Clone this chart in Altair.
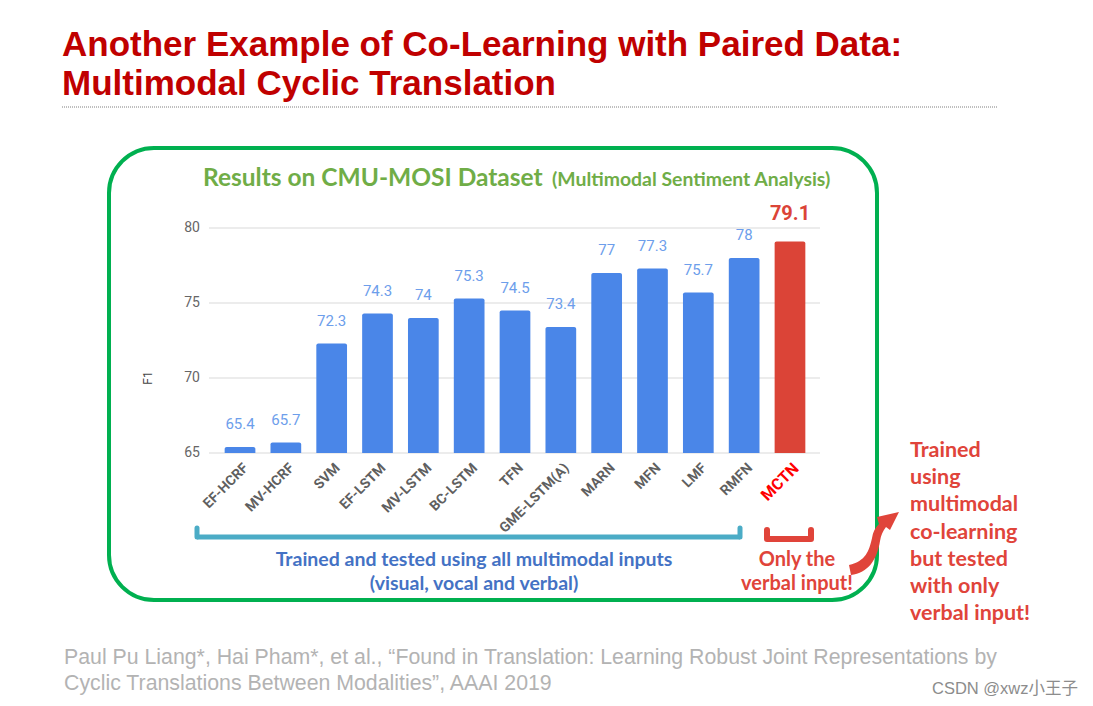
import altair as alt
import pandas as pd

# ---------------- data ----------------
models = ["EF-HCRF", "MV-HCRF", "SVM", "EF-LSTM", "MV-LSTM", "BC-LSTM", "TFN",
          "GME-LSTM(A)", "MARN", "MFN", "LMF", "RMFN", "MCTN"]
f1_scores = [65.4, 65.7, 72.3, 74.3, 74.0, 75.3, 74.5, 73.4, 77.0, 77.3, 75.7, 78.0, 79.1]
value_labels = ["65.4", "65.7", "72.3", "74.3", "74", "75.3", "74.5", "73.4",
                "77", "77.3", "75.7", "78", "79.1"]
groups = ["all"] * 12 + ["verbal"]
y_ticks = [65, 70, 75, 80]

title_lines = ["Another Example of Co-Learning with Paired Data:",
               "Multimodal Cyclic Translation"]
chart_title = "Results on CMU-MOSI Dataset"
chart_subtitle = "(Multimodal Sentiment Analysis)"
blue_note = ["Trained and tested using all multimodal inputs",
             "(visual, vocal and verbal)"]
red_note = ["Only  the", "verbal input!"]
side_note = ["Trained", "using", "multimodal", "co-learning", "but tested",
             "with only", "verbal input!"]
citation = ["Paul Pu Liang*, Hai Pham*, et al., \u201cFound in Translation: Learning Robust Joint Representations by",
            "Cyclic Translations Between Modalities\u201d, AAAI 2019"]
watermark = "CSDN @xwz\u5c0f\u738b\u5b50"

# ---------------- layout helpers ----------------
OX, OY = 8, 8
def px(x):
    return x - OX
def py(y):
    return y - OY

W, H = 1077, 690
one = pd.DataFrame({"a": [0]})

bars_df = pd.DataFrame({"model": models, "f1": f1_scores, "label": value_labels, "group": groups})
ticks_df = pd.DataFrame({"v": y_ticks})

x_scale = alt.Scale(domain=models, range=[px(217.1), px(812.9)],
                    paddingInner=0.33, paddingOuter=0.165)
y_scale = alt.Scale(domain=[65, 80], range=[py(453), py(228)], nice=False, zero=False)

X = alt.X("model:N", scale=x_scale, axis=None)
Y = alt.Y("f1:Q", scale=y_scale, axis=None)

SANS = "Liberation Sans, Arial, sans-serif"
CAL = "Lato, Open Sans, sans-serif"

def text_layer(text, x, y, size, color, weight="normal", font=CAL,
               align="left", angle=0, line_height=None):
    kw = dict(text=text, fontSize=size, color=color, fontWeight=weight, font=font,
              align=align, baseline="alphabetic")
    if angle:
        kw["angle"] = angle
    if line_height:
        kw["lineHeight"] = line_height
    return alt.Chart(one).mark_text(**kw).encode(x=alt.value(px(x)), y=alt.value(py(y)))

def hrule(x1, x2, y, color, width, dash=None):
    kw = dict(color=color, strokeWidth=width)
    if dash:
        kw["strokeDash"] = dash
    return alt.Chart(one).mark_rule(**kw).encode(
        x=alt.value(px(x1)), x2=alt.value(px(x2)), y=alt.value(py(y)))

def vrule(x, y1, y2, color, width):
    return alt.Chart(one).mark_rule(color=color, strokeWidth=width, strokeCap="round").encode(
        x=alt.value(px(x)), y=alt.value(py(y1)), y2=alt.value(py(y2)))

layers = []

# slide title
layers.append(text_layer(title_lines[0], 62, 56, 35, "#c00000", "bold", SANS))
layers.append(text_layer(title_lines[1], 62, 95, 35, "#c00000", "bold", SANS))
layers.append(hrule(62, 997, 107, "#7f7f7f", 1, [1, 1]))

# green frame
layers.append(alt.Chart(one).mark_rect(cornerRadius=45, fillOpacity=0, stroke="#00b050",
                                       strokeWidth=4).encode(
    x=alt.value(px(109)), x2=alt.value(px(877)), y=alt.value(py(148)), y2=alt.value(py(600))))

# chart title
layers.append(text_layer(chart_title, 203, 186, 24.5, "#70ad47", "bold"))
layers.append(text_layer(chart_subtitle, 552, 186, 19.4, "#70ad47", "bold"))

# gridlines
layers.append(alt.Chart(ticks_df).mark_rule(color="#d9d9d9", strokeWidth=1).encode(
    y=alt.Y("v:Q", scale=y_scale, axis=None), x=alt.value(px(209)), x2=alt.value(px(820))))
layers.append(alt.Chart(ticks_df).mark_text(align="right", baseline="middle", fontSize=14,
                                            color="#666666", font="Roboto").encode(
    y=alt.Y("v:Q", scale=y_scale, axis=None), x=alt.value(px(200)), text="v:Q"))
layers.append(text_layer("F1", 152, 378, 12, "#444444", "normal", "Roboto", "center", 270))

# bars
layers.append(alt.Chart(bars_df).mark_bar(cornerRadiusTopLeft=2, cornerRadiusTopRight=2).encode(
    x=X, y=Y, y2=alt.datum(65),
    color=alt.Color("group:N", scale=alt.Scale(domain=["all", "verbal"],
                                               range=["#4a86e8", "#db4437"]), legend=None)))

# value labels
layers.append(alt.Chart(bars_df).transform_filter("datum.group == 'all'").mark_text(
    baseline="alphabetic", dy=-18, fontSize=15, color="#6d9eeb", font="Roboto").encode(
    x=X, y=Y, text="label:N"))
layers.append(alt.Chart(bars_df).transform_filter("datum.group == 'verbal'").mark_text(
    baseline="alphabetic", dy=-22, fontSize=20, fontWeight="bold", color="#db4437",
    font="Roboto").encode(x=X, y=Y, text="label:N"))

# category labels
XL = alt.X("model:N", scale=x_scale, axis=None, bandPosition=0.7)
layers.append(alt.Chart(bars_df).transform_filter("datum.group == 'all'").mark_text(
    angle=315, align="right", baseline="middle", fontSize=14, fontWeight="bold",
    color="#5f5f5f", font="Roboto").encode(x=XL, y=alt.value(py(466)), text="model:N"))
layers.append(alt.Chart(bars_df).transform_filter("datum.group == 'verbal'").mark_text(
    angle=315, align="right", baseline="middle", fontSize=16, fontWeight="bold",
    color="#ff0000", font="Roboto").encode(x=XL, y=alt.value(py(466)), text="model:N"))

# brackets
BL = "#4bacc6"
layers.append(hrule(197, 740, 537, BL, 5))
layers.append(vrule(197, 528, 537, BL, 5))
layers.append(vrule(740, 528, 537, BL, 5))
RD = "#e0443a"
layers.append(hrule(767, 811, 539, RD, 6))
layers.append(vrule(767, 530, 539, RD, 6))
layers.append(vrule(811, 530, 539, RD, 6))

# annotations
layers.append(text_layer(blue_note, 474, 566, 19.5, "#4472c4", "bold", align="center", line_height=24))
layers.append(text_layer(red_note, 797, 566, 20, RD, "bold", align="center", line_height=24))
layers.append(text_layer(side_note, 910, 457, 21.5, RD, "bold", line_height=27.2))

# curved arrow (symbol path, page coords converted to unit square)
arrow_pts = [("M", 849, 565), ("C", 866, 561, 869, 551, 872, 538),
             ("C", 873, 532, 875, 528, 879, 524), ("L", 877, 517), ("L", 899, 512),
             ("L", 890, 530), ("L", 886, 527), ("C", 883, 531, 881, 535, 880, 541),
             ("C", 877, 560, 868, 573, 851, 575)]
cx, cy, hs = 874, 543.5, 32
parts = []
for seg in arrow_pts:
    cmd, vals = seg[0], seg[1:]
    coords = []
    for i in range(0, len(vals), 2):
        coords.append(f"{(vals[i] - cx) / hs:.3f} {(vals[i + 1] - cy) / hs:.3f}")
    parts.append(cmd + " " + ", ".join(coords))
arrow_path = " ".join(parts) + " Z"
layers.append(alt.Chart(one).mark_point(shape=arrow_path, filled=True, fill=RD, opacity=1,
                                        strokeWidth=0, size=(2 * hs) ** 2).encode(
    x=alt.value(px(cx)), y=alt.value(py(cy))))

# citation + watermark
layers.append(text_layer(citation, 64, 664, 21.3, "#b3b3b3", "normal", SANS, line_height=26))
layers.append(text_layer(watermark, 1078, 694, 16.5, "#8c8c8c", "normal",
                         "Liberation Sans, Noto Sans CJK SC", align="right"))

chart = alt.layer(*layers).properties(
    width=W, height=H, autosize=alt.AutoSizeParams(type="none"), padding=0
).configure_view(strokeWidth=0)

chart.save("out.html", embed_options={"renderer": "svg", "actions": False})
